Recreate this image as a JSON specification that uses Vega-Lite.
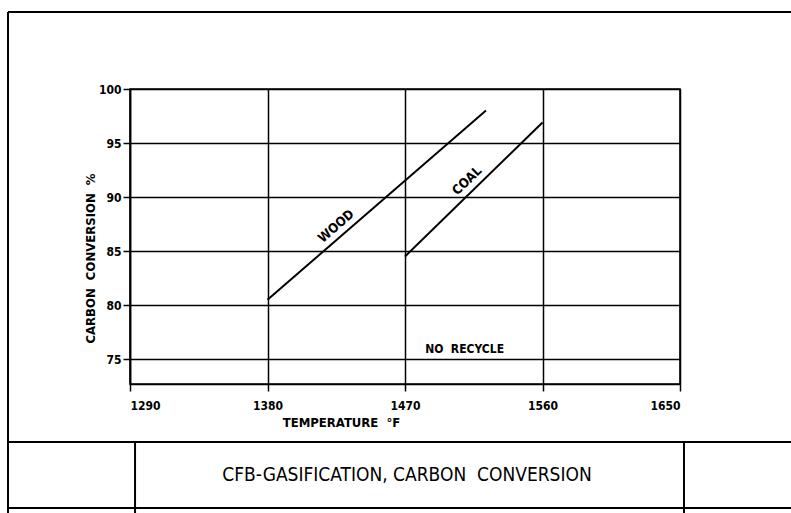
{
  "$schema": "https://vega.github.io/schema/vega-lite/v6.json",
  "width": 550,
  "height": 295,
  "autosize": {"type": "none"},
  "padding": {"left": 130, "top": 89, "right": 120, "bottom": 130},
  "background": "white",
  "config": {
    "view": {"stroke": "black", "strokeWidth": 1.6},
    "font": "DejaVu Sans Condensed",
    "axis": {
      "labelFont": "DejaVu Sans Condensed",
      "titleFont": "DejaVu Sans Condensed",
      "labelColor": "black",
      "titleColor": "black",
      "domainColor": "black",
      "tickColor": "black",
      "gridColor": "black",
      "gridOpacity": 1,
      "gridWidth": 1.5,
      "domainWidth": 1.6,
      "tickWidth": 1.5
    }
  },
  "datasets": {
    "curves": [
      {"fuel": "WOOD", "temp": 1380, "conv": 80.5},
      {"fuel": "WOOD", "temp": 1523, "conv": 98.0},
      {"fuel": "COAL", "temp": 1470, "conv": 84.5},
      {"fuel": "COAL", "temp": 1560, "conv": 96.9}
    ],
    "frame": [
      {"part": "left", "x": 1210.15, "x2": 1210.15, "y": 107.13, "y2": 59},
      {"part": "top", "x": 1210.15, "x2": 1745, "y": 107.13, "y2": 107.13},
      {"part": "blocktop", "x": 1210.15, "x2": 1745, "y": 67.33, "y2": 67.33},
      {"part": "blockbottom", "x": 1210.15, "x2": 1745, "y": 61.22, "y2": 61.22},
      {"part": "div1", "x": 1293.3, "x2": 1293.3, "y": 67.33, "y2": 59},
      {"part": "div2", "x": 1652.6, "x2": 1652.6, "y": 67.33, "y2": 59}
    ]
  },
  "layer": [
    {
      "data": {"name": "curves"},
      "mark": {"type": "line", "color": "black", "strokeWidth": 2},
      "encoding": {
        "x": {
          "field": "temp",
          "type": "quantitative",
          "scale": {"domain": [1290, 1650], "nice": false, "zero": false},
          "axis": {
            "values": [1290, 1380, 1470, 1560, 1650],
            "format": "d",
            "grid": true,
            "tickSize": 7,
            "labelPadding": 9,
            "labelFontSize": 12,
            "labelFontWeight": "bold",
            "title": "TEMPERATURE\u00a0\u00a0°F",
            "titleFontSize": 13,
            "titleFontWeight": "bold",
            "titleX": 211,
            "titleY": 38,
            "titleBaseline": "middle"
          }
        },
        "y": {
          "field": "conv",
          "type": "quantitative",
          "scale": {"domain": [72.7, 100], "nice": false, "zero": false},
          "axis": {
            "values": [75, 80, 85, 90, 95, 100],
            "format": "d",
            "grid": true,
            "tickSize": 7,
            "labelPadding": 2,
            "labelFontSize": 12,
            "labelFontWeight": "bold",
            "title": "CARBON\u00a0\u00a0CONVERSION\u00a0\u00a0%",
            "titleFontSize": 13,
            "titleFontWeight": "bold",
            "titleX": -40,
            "titleY": 169,
            "titleAngle": -90,
            "titleBaseline": "middle"
          }
        },
        "detail": {"field": "fuel"}
      }
    },
    {
      "data": {"name": "frame"},
      "mark": {"type": "rule", "color": "black", "strokeWidth": 2},
      "encoding": {
        "x": {"field": "x", "type": "quantitative"},
        "x2": {"field": "x2"},
        "y": {"field": "y", "type": "quantitative"},
        "y2": {"field": "y2"}
      }
    },
    {
      "data": {"values": [{"label": "WOOD", "temp": 1425, "conv": 87.3}]},
      "mark": {"type": "text", "angle": -41, "fontSize": 13, "fontWeight": "bold", "color": "black", "baseline": "middle", "align": "center"},
      "encoding": {
        "x": {"field": "temp", "type": "quantitative"},
        "y": {"field": "conv", "type": "quantitative"},
        "text": {"field": "label"}
      }
    },
    {
      "data": {"values": [{"label": "COAL", "temp": 1510.6, "conv": 91.5}]},
      "mark": {"type": "text", "angle": -44, "fontSize": 13, "fontWeight": "bold", "color": "black", "baseline": "middle", "align": "center"},
      "encoding": {
        "x": {"field": "temp", "type": "quantitative"},
        "y": {"field": "conv", "type": "quantitative"},
        "text": {"field": "label"}
      }
    },
    {
      "data": {"values": [{"label": "NO\u00a0\u00a0RECYCLE", "temp": 1509, "conv": 75.9}]},
      "mark": {"type": "text", "fontSize": 12, "fontWeight": "bold", "color": "black", "baseline": "middle", "align": "center"},
      "encoding": {
        "x": {"field": "temp", "type": "quantitative"},
        "y": {"field": "conv", "type": "quantitative"},
        "text": {"field": "label"}
      }
    },
    {
      "data": {"values": [{"label": "CFB-GASIFICATION,\u00a0CARBON\u00a0\u00a0CONVERSION", "temp": 1471.3, "conv": 64.3}]},
      "mark": {"type": "text", "fontSize": 19, "color": "black", "baseline": "middle", "align": "center"},
      "encoding": {
        "x": {"field": "temp", "type": "quantitative"},
        "y": {"field": "conv", "type": "quantitative"},
        "text": {"field": "label"}
      }
    }
  ]
}
